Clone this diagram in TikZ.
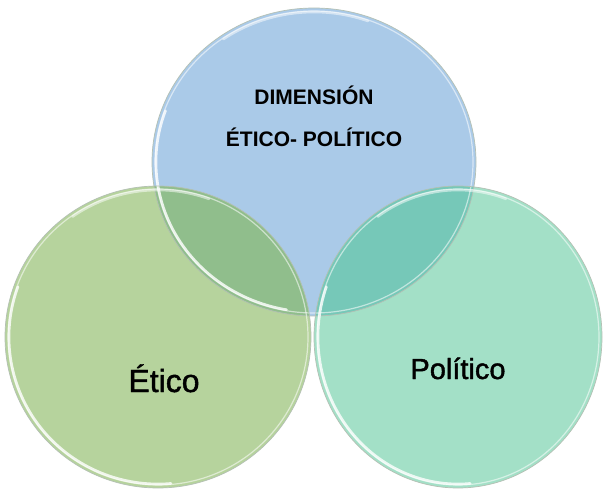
\documentclass[tikz,border=0pt]{standalone}
\usepackage{fontspec}
\setmainfont{Liberation Sans}
\newfontfamily\heavyfont[FakeBold=1.4]{Liberation Sans}
\definecolor{cblue}{HTML}{AACAE8}
\definecolor{cgreen}{HTML}{B6D39D}
\definecolor{cteal}{HTML}{A3E0C7}
\definecolor{cbg}{HTML}{90BE8C}
\definecolor{cbt}{HTML}{76C8B8}
\definecolor{cedge}{HTML}{B4C0B4}
\tikzset{
  outerring/.style={draw=cedge, line width=0.7pt},
  innerring/.style={draw=white, line width=1.2pt, opacity=0.55},
  crescent/.style={draw=white, line width=2.6pt, opacity=0.8, line cap=round},
  bigtext/.style={text=black, inner sep=0pt},
  titletext/.style={font=\bfseries\fontsize{21}{24}\selectfont, text=black, inner sep=0pt}
}
\begin{document}
\begin{tikzpicture}[x=1pt,y=-1pt]
\useasboundingbox (0,0) rectangle (603,489);
\fill[white] (0,0) rectangle (603,489);
\coordinate (B) at (314,162);
\coordinate (G) at (158,337);
\coordinate (T) at (458,337);
% base fills
\fill[cblue] (B) ellipse [x radius=162, y radius=154];
\fill[cgreen] (G) ellipse [x radius=153, y radius=151];
\fill[cteal] (T) ellipse [x radius=144, y radius=151];
% overlaps
\begin{scope}
  \clip (B) ellipse [x radius=162, y radius=154];
  \fill[cbg] (G) ellipse [x radius=153, y radius=151];
  \fill[cbt] (T) ellipse [x radius=144, y radius=151];
\end{scope}
% rings
\draw[outerring] (B) ellipse [x radius=162, y radius=154];
\draw[innerring] (B) ellipse [x radius=159, y radius=151];
\draw[crescent] ([shift={(200:158 and 150)}]B) arc [start angle=200, end angle=100, x radius=158, y radius=150];
\draw[crescent, opacity=0.5] ([shift={(235:158 and 150)}]B) arc [start angle=235, end angle=290, x radius=158, y radius=150];
\draw[outerring] (G) ellipse [x radius=153, y radius=151];
\draw[innerring] (G) ellipse [x radius=150, y radius=148];
\draw[crescent] ([shift={(200:149 and 147)}]G) arc [start angle=200, end angle=85, x radius=149, y radius=147];
\draw[crescent, opacity=0.5] ([shift={(235:149 and 147)}]G) arc [start angle=235, end angle=290, x radius=149, y radius=147];
\draw[outerring] (T) ellipse [x radius=144, y radius=151];
\draw[innerring] (T) ellipse [x radius=141, y radius=148];
\draw[crescent] ([shift={(200:140 and 147)}]T) arc [start angle=200, end angle=85, x radius=140, y radius=147];
\draw[crescent, opacity=0.5] ([shift={(235:140 and 147)}]T) arc [start angle=235, end angle=290, x radius=140, y radius=147];
% texts
\node[titletext, anchor=base] (t1) at (314,105) {DIMENSIÓN};
\node[titletext, anchor=base] (t2) at (314,147) {ÉTICO- POLÍTICO};
\node[bigtext, font=\heavyfont\fontsize{32}{34}\selectfont, anchor=base] (etico) at (164,392) {Ético};
\node[bigtext, font=\heavyfont\fontsize{29}{32}\selectfont, anchor=base] (politico) at (458,379) {Político};
\end{tikzpicture}
\end{document}
